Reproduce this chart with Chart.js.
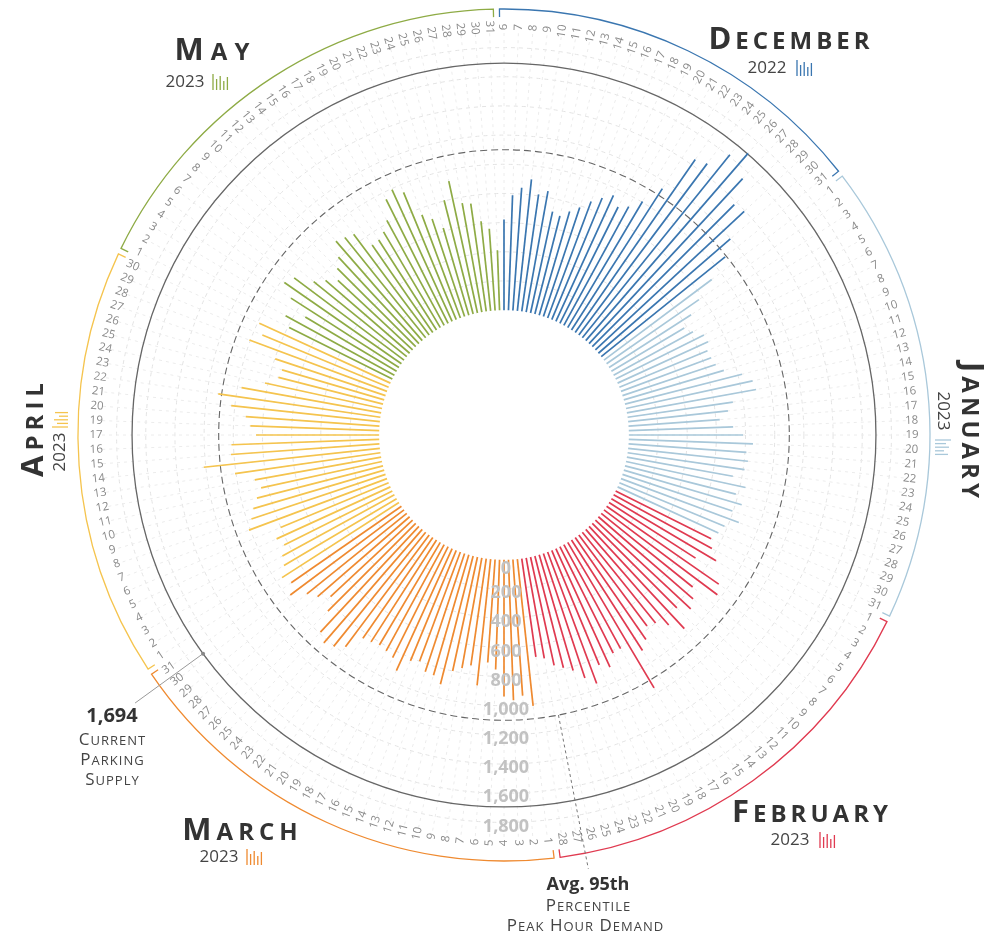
<!DOCTYPE html>
<html>
<head>
<meta charset="utf-8">
<script src="https://cdn.jsdelivr.net/npm/chart.js@4.4.0/dist/chart.umd.min.js"></script>
<style>
  html, body { margin: 0; padding: 0; background: #fff; }
</style>
</head>
<body>
<canvas id="chart" width="987" height="934"></canvas>
<script>
// ---- data ----
const months = ['December', 'January', 'February', 'March', 'April', 'May'];
const monthYears = ['2022', '2023', '2023', '2023', '2023', '2023'];
const monthColors = ['#3a76b0', '#a9c8da', '#e03a50', '#ef8a30', '#f5c44e', '#8eab45'];

const decDays = [6, 7, 8, 9, 10, 11, 12, 13, 14, 15, 16, 17, 18, 19, 20, 21, 22, 23, 24, 25, 26, 27, 28, 29, 30, 31];
const janDays = [1, 2, 3, 4, 5, 6, 7, 8, 9, 10, 11, 12, 13, 14, 15, 16, 17, 18, 19, 20, 21, 22, 23, 24, 25, 26, 27, 28, 29, 30, 31];
const febDays = [1, 2, 3, 4, 5, 6, 7, 8, 9, 10, 11, 12, 13, 14, 15, 16, 17, 18, 19, 20, 21, 22, 23, 24, 25, 26, 27, 28];
const marDays = [1, 2, 3, 4, 5, 6, 7, 8, 9, 10, 11, 12, 13, 14, 15, 16, 17, 18, 19, 20, 21, 22, 23, 24, 25, 26, 27, 28, 29, 30, 31];
const aprDays = [1, 2, 3, 4, 5, 6, 7, 8, 9, 10, 11, 12, 13, 14, 15, 16, 17, 19, 20, 21, 22, 23, 24, 25, 26, 27, 28, 29, 30];
const mayDays = [1, 2, 3, 4, 5, 6, 7, 8, 9, 10, 11, 12, 13, 14, 15, 16, 17, 18, 19, 20, 21, 22, 23, 24, 25, 26, 27, 28, 29, 30, 31];

// peak hour parking demand per day
const decValues = [621, 789, 843, 906, 811, 843, 711, 694, 741, 788, 853, 903, 950, 892, 928, 1005, 1152, 1443, 1468, 1612, 1699, 1545, 1377, 1394, 1197, 1091];
const janValues = [923, 771, 669, 581, 620, 677, 682, 654, 660, 674, 715, 828, 888, 900, 729, 688, 627, 716, 783, 852, 810, 826, 810, 738, 838, 784, 842, 794, 862, 780, 760];
const febValues = [732, 768, 834, 705, 936, 971, 805, 859, 893, 820, 958, 868, 800, 780, 850, 900, 1160, 812, 817, 893, 850, 962, 900, 826, 791, 760, 700, 680];
const marValues = [1012, 935, 964, 937, 753, 708, 871, 740, 768, 800, 907, 860, 854, 800, 820, 920, 850, 830, 818, 830, 840, 958, 1005, 1030, 991, 851, 769, 835, 879, 974, 920];
const aprValues = [953, 898, 875, 829, 858, 802, 1010, 969, 935, 892, 848, 880, 1007, 1214, 1020, 1014, 844, 884, 919, 1025, 1123, 972, 821, 740, 730, 797, 1007, 937, 988];
const mayValues = [791, 850, 728, 880, 977, 941, 820, 763, 700, 760, 810, 903, 883, 864, 729, 733, 763, 820, 950, 993, 944, 755, 705, 623, 805, 925, 759, 746, 618, 562, 411];

const tickValues = [0, 200, 400, 600, 800, 1000, 1200, 1400, 1600, 1800];
const parkingSupply = 1694;
const avgDemand = 1100;

// ---- build flat arrays ----
const dayGroups = [decDays, janDays, febDays, marDays, aprDays, mayDays];
const valueGroups = [decValues, janValues, febValues, marValues, aprValues, mayValues];
const labels = [];
const values = [];
const barColors = [];
const monthRanges = [];
dayGroups.forEach((days, m) => {
    const start = labels.length;
    days.forEach((d, k) => {
        labels.push(String(d));
        values.push(valueGroups[m][k]);
        barColors.push(monthColors[m]);
    });
    monthRanges.push([start, labels.length - 1]);
});

const FONT = '"Open Sans", "DejaVu Sans", sans-serif';

// draws Title Case text as small caps (uppercase letters big, others small)
function smallCaps(ctx, text, x, y, big, small, weight, color, spacing, align) {
    const parts = [];
    let total = 0;
    for (const ch of text) {
        const isSmall = ch !== ch.toUpperCase();
        const size = isSmall ? small : big;
        ctx.font = weight + ' ' + size + 'px ' + FONT;
        const c = ch.toUpperCase();
        const w = ctx.measureText(c).width;
        parts.push({ c, size, w });
        total += w + spacing;
    }
    total -= spacing;
    let cx = align === 'center' ? x - total / 2 : (align === 'right' ? x - total : x);
    ctx.fillStyle = color;
    ctx.textAlign = 'left';
    ctx.textBaseline = 'alphabetic';
    parts.forEach(p => {
        ctx.font = weight + ' ' + p.size + 'px ' + FONT;
        ctx.fillText(p.c, cx, y);
        cx += p.w + spacing;
    });
}

function drawIcon(ctx, x, y, color) {
    const hs = [16, 11, 14, 9, 13];
    ctx.save();
    ctx.strokeStyle = color;
    ctx.lineWidth = 1.3;
    hs.forEach((h, k) => {
        ctx.beginPath();
        ctx.moveTo(x + k * 3.6, y);
        ctx.lineTo(x + k * 3.6, y - h);
        ctx.stroke();
    });
    ctx.restore();
}

function monthTitle(ctx, m, x, y, yearDx, yearDy, iconDx, spacing) {
    smallCaps(ctx, months[m], x, y, 31, 24, 'bold', '#333', spacing, 'center');
    ctx.font = '17px ' + FONT;
    ctx.fillStyle = '#444';
    ctx.textAlign = 'center';
    ctx.textBaseline = 'middle';
    ctx.fillText(monthYears[m], x + yearDx, y + yearDy);
    drawIcon(ctx, x + yearDx + iconDx, y + yearDy + 8, monthColors[m]);
}

const radialPlugin = {
    id: 'radialBars',
    beforeDatasetsDraw(chart) {
        const s = chart.scales.r;
        const ctx = chart.ctx;
        const xc = s.xCenter, yc = s.yCenter;
        ctx.save();
        // clear the hole
        ctx.fillStyle = '#fff';
        ctx.beginPath();
        ctx.arc(xc, yc, s.getDistanceFromCenterForValue(0) - 0.5, 0, Math.PI * 2);
        ctx.fill();
        // reference circles
        ctx.strokeStyle = '#666';
        ctx.lineWidth = 1.1;
        ctx.setLineDash([7, 4]);
        ctx.beginPath();
        ctx.arc(xc, yc, s.getDistanceFromCenterForValue(avgDemand), 0, Math.PI * 2);
        ctx.stroke();
        ctx.setLineDash([]);
        ctx.lineWidth = 1.3;
        ctx.beginPath();
        ctx.arc(xc, yc, s.getDistanceFromCenterForValue(parkingSupply), 0, Math.PI * 2);
        ctx.stroke();
        // bars
        ctx.lineWidth = 1.7;
        values.forEach((v, i) => {
            const a = s.getPointPositionForValue(i, 0);
            const b = s.getPointPositionForValue(i, v);
            ctx.strokeStyle = barColors[i];
            ctx.beginPath();
            ctx.moveTo(a.x, a.y);
            ctx.lineTo(b.x, b.y);
            ctx.stroke();
        });
        ctx.restore();
    },
    afterDraw(chart) {
        const s = chart.scales.r;
        const ctx = chart.ctx;
        const xc = s.xCenter, yc = s.yCenter;
        const R = s.drawingArea;
        const step = Math.PI * 2 / labels.length;
        ctx.save();

        // day labels
        ctx.font = '11.5px ' + FONT;
        ctx.fillStyle = '#8a8a8a';
        ctx.textAlign = 'center';
        ctx.textBaseline = 'middle';
        labels.forEach((lab, i) => {
            const th = s.getIndexAngle(i);
            const p = s.getPointPosition(i, R + 6);
            ctx.save();
            ctx.translate(p.x, p.y);
            ctx.rotate(th < Math.PI ? th - Math.PI / 2 : th - Math.PI * 1.5);
            ctx.fillText(lab, 0, 0);
            ctx.restore();
        });

        // month arcs with end ticks
        const ra = R + 24;
        monthRanges.forEach(([a, b], m) => {
            const t0 = s.getIndexAngle(a) - step * 0.3 - Math.PI / 2;
            let t1 = s.getIndexAngle(b) + step * 0.3 - Math.PI / 2;
            if (t1 < t0) t1 += Math.PI * 2;
            ctx.strokeStyle = monthColors[m];
            ctx.lineWidth = 1.3;
            ctx.beginPath();
            ctx.moveTo(xc + Math.cos(t0) * (ra - 8), yc + Math.sin(t0) * (ra - 8));
            ctx.arc(xc, yc, ra, t0, t1);
            ctx.lineTo(xc + Math.cos(t1) * (ra - 8), yc + Math.sin(t1) * (ra - 8));
            ctx.stroke();
        });

        // value tick labels down the bottom
        ctx.font = 'bold 18px ' + FONT;
        ctx.fillStyle = '#c2c2c2';
        ctx.textAlign = 'center';
        ctx.textBaseline = 'middle';
        tickValues.forEach(v => {
            const off = v === 0 ? 9 : 4;
            ctx.fillText(v.toLocaleString('en-US'), xc + 2, yc + s.getDistanceFromCenterForValue(v) + off);
        });

        // leader for parking supply
        const ang = (deg) => deg * Math.PI / 180 - Math.PI / 2;
        let t = ang(234);
        let r1 = s.getDistanceFromCenterForValue(parkingSupply);
        ctx.strokeStyle = '#999';
        ctx.lineWidth = 1;
        ctx.beginPath();
        ctx.moveTo(xc + Math.cos(t) * r1, yc + Math.sin(t) * r1);
        ctx.lineTo(xc + Math.cos(t) * (R + 54), yc + Math.sin(t) * (R + 54));
        ctx.stroke();
        ctx.fillStyle = '#888';
        ctx.beginPath();
        ctx.arc(xc + Math.cos(t) * r1, yc + Math.sin(t) * r1, 2, 0, Math.PI * 2);
        ctx.fill();

        // leader for average demand
        t = ang(169);
        r1 = s.getDistanceFromCenterForValue(avgDemand);
        ctx.strokeStyle = '#777';
        ctx.setLineDash([3, 3]);
        ctx.beginPath();
        ctx.moveTo(xc + Math.cos(t) * r1, yc + Math.sin(t) * r1);
        ctx.lineTo(xc + Math.cos(t) * (R + 40), yc + Math.sin(t) * (R + 40));
        ctx.stroke();
        ctx.setLineDash([]);

        // annotations
        ctx.font = 'bold 20px ' + FONT;
        ctx.fillStyle = '#333';
        ctx.textAlign = 'center';
        ctx.textBaseline = 'alphabetic';
        ctx.fillText(parkingSupply.toLocaleString('en-US'), 112, 722);
        smallCaps(ctx, 'Current', 112, 745, 17, 13, 'normal', '#444', 1, 'center');
        smallCaps(ctx, 'Parking', 112, 765, 17, 13, 'normal', '#444', 1, 'center');
        smallCaps(ctx, 'Supply', 112, 785, 17, 13, 'normal', '#444', 1, 'center');

        ctx.font = 'bold 18px ' + FONT;
        ctx.fillStyle = '#333';
        ctx.textAlign = 'center';
        ctx.fillText('Avg. 95th', 588, 890);
        smallCaps(ctx, 'Percentile', 588, 911, 17, 13, 'normal', '#444', 1, 'center');
        smallCaps(ctx, 'Peak Hour Demand', 585, 931, 17, 13, 'normal', '#444', 1, 'center');

        // month titles
        monthTitle(ctx, 0, 789, 49, -22, 19, 30, 4);   // December
        monthTitle(ctx, 5, 212, 60, -27, 22, 28, 7);   // May
        monthTitle(ctx, 2, 810, 822, -20, 18, 30, 4);  // February
        monthTitle(ctx, 3, 240, 840, -21, 17, 28, 5);  // March

        // April (rotated, reads upward)
        ctx.save();
        ctx.translate(43, 430);
        ctx.rotate(-Math.PI / 2);
        smallCaps(ctx, months[4], 0, 0, 31, 24, 'bold', '#333', 5, 'center');
        ctx.font = '17px ' + FONT;
        ctx.fillStyle = '#444';
        ctx.textAlign = 'center';
        ctx.textBaseline = 'middle';
        ctx.fillText(monthYears[4], -22, 17);
        drawIcon(ctx, 3, 25, monthColors[4]);
        ctx.restore();

        // January (rotated, reads downward)
        ctx.save();
        ctx.translate(962, 430);
        ctx.rotate(Math.PI / 2);
        smallCaps(ctx, months[1], 0, 0, 31, 24, 'bold', '#333', 4, 'center');
        ctx.font = '17px ' + FONT;
        ctx.fillStyle = '#444';
        ctx.textAlign = 'center';
        ctx.textBaseline = 'middle';
        ctx.fillText(monthYears[1], -19, 19);
        drawIcon(ctx, 10, 27, monthColors[1]);
        ctx.restore();

        ctx.restore();
    }
};

new Chart(document.getElementById('chart'), {
    type: 'radar',
    data: {
        labels: labels,
        datasets: [{
            label: 'Peak hour demand',
            data: values,
            showLine: false,
            fill: false,
            pointRadius: 0,
            pointHoverRadius: 0,
            borderWidth: 0
        }]
    },
    options: {
        responsive: false,
        animation: false,
        layout: { padding: { left: 102, right: 81, top: 33, bottom: 97 } },
        plugins: { legend: { display: false }, tooltip: { enabled: false } },
        scales: {
            r: {
                min: -856,
                max: 1900,
                startAngle: 0,
                ticks: { display: false, stepSize: 200 },
                pointLabels: { display: false },
                grid: { circular: true, color: '#e3e3e3', lineWidth: 1 },
                border: { dash: [4, 4] },
                angleLines: { color: '#ececec', lineWidth: 1, borderDash: [3, 4] },
                afterBuildTicks: (scale) => {
                    scale.ticks = tickValues.filter(v => v > 0).map(v => ({ value: v }));
                }
            }
        }
    },
    plugins: [radialPlugin]
});
</script>
</body>
</html>
